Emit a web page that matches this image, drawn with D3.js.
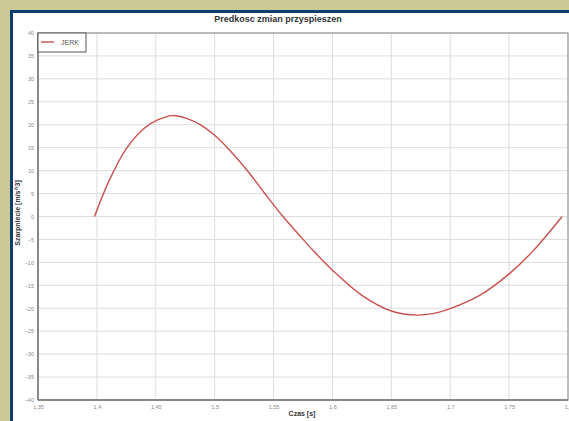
<!DOCTYPE html>
<html><head><meta charset="utf-8">
<script src="https://cdn.jsdelivr.net/npm/d3@7"></script>
<style>body{margin:0;background:#CCC997;overflow:hidden}svg{display:block}</style>
</head><body>
<script>
const title = "Predkosc zmian przyspieszen";
const xTitle = "Czas [s]";
const yTitle = "Szarpniecie [m/s^3]";
const seriesName = "JERK";
const xTicks = [1.35,1.4,1.45,1.5,1.55,1.6,1.65,1.7,1.75,1.8];
const xTickLabels = ["1,35","1,4","1,45","1,5","1,55","1,6","1,65","1,7","1,75","1,8"];
const yTicks = [40,35,30,25,20,15,10,5,0,-5,-10,-15,-20,-25,-30,-35,-40];
const time = [1.398,1.41,1.425,1.44,1.452,1.464,1.476,1.4873,1.5,1.5147,1.529,1.5432,1.558,1.572,1.5836,1.6,1.625,1.65,1.672,1.69,1.7,1.725,1.75,1.77,1.795];
const jerk = [0,7.6,14.8,19.2,21.1,22,21.4,20.1,17.7,13.9,9.6,4.8,0,-4.1,-7.4,-11.7,-17.2,-20.6,-21.5,-20.9,-20.1,-17.2,-12.5,-7.6,0];

const W=569,H=421;
const font="Arial, 'Liberation Sans', sans-serif";
const svg=d3.select("body").append("svg").attr("width",W).attr("height",H);
// frame
svg.append("rect").attr("x",10).attr("y",10).attr("width",W).attr("height",H).attr("fill","#0B3F72");
svg.append("rect").attr("x",13).attr("y",13).attr("width",W).attr("height",H).attr("fill","#fff");

const L=38,R=568,T=33,B=400;
const x=d3.scaleLinear().domain([1.35,1.8]).range([L,R]);
const y=d3.scaleLinear().domain([-40,40]).range([B,T]);

// grid
svg.append("g").selectAll("line").data(yTicks).join("line")
 .attr("x1",L).attr("x2",R).attr("y1",d=>y(d)).attr("y2",d=>y(d))
 .attr("stroke","#dcdcdc").attr("stroke-width",1);
svg.append("g").selectAll("line").data(xTicks).join("line")
 .attr("y1",T).attr("y2",B).attr("x1",d=>x(d)).attr("x2",d=>x(d))
 .attr("stroke","#dcdcdc").attr("stroke-width",1);

// axes
const labelOf=new Map(xTicks.map((v,i)=>[v,xTickLabels[i]]));
const xa=svg.append("g").attr("transform",`translate(0,${B})`)
 .call(d3.axisBottom(x).tickValues(xTicks).tickFormat(d=>labelOf.get(d)).tickSize(0).tickPadding(5));
const ya=svg.append("g").attr("transform",`translate(${L},0)`)
 .call(d3.axisLeft(y).tickValues(yTicks).tickSize(0).tickPadding(4));
[xa,ya].forEach(g=>{g.select(".domain").remove();g.selectAll("text").attr("font-family",font).attr("font-size",5.5).attr("fill","#888");});

// border
svg.append("rect").attr("x",L).attr("y",T).attr("width",R-L).attr("height",B-T).attr("fill","none").attr("stroke","#999").attr("stroke-width",1.2);
svg.append("line").attr("x1",L).attr("x2",L).attr("y1",T).attr("y2",B).attr("stroke","#777").attr("stroke-width",1.5);
svg.append("line").attr("x1",L).attr("x2",R).attr("y1",B).attr("y2",B).attr("stroke","#777").attr("stroke-width",1.5);

// curve
const line=d3.line().x((d,i)=>x(time[i])).y(d=>y(d)).curve(d3.curveCatmullRom.alpha(0.5));
svg.append("path").datum(jerk).attr("d",line).attr("fill","none").attr("stroke","#C8504E").attr("stroke-width",1.4);

// legend
svg.append("rect").attr("x",L).attr("y",T).attr("width",48).attr("height",19).attr("fill","#fff").attr("stroke","#555").attr("stroke-width",1);
svg.append("line").attr("x1",41).attr("x2",54).attr("y1",42).attr("y2",42).attr("stroke","#C8504E").attr("stroke-width",1.4);
svg.append("text").attr("x",61).attr("y",44.5).text(seriesName).attr("font-family",font).attr("font-size",7).attr("fill","#555");

// titles
svg.append("text").attr("x",278).attr("y",22).attr("text-anchor","middle").text(title)
 .attr("font-family",font).attr("font-size",9).attr("font-weight","bold").attr("fill","#333");
svg.append("text").attr("x",302).attr("y",416).attr("text-anchor","middle").text(xTitle)
 .attr("font-family",font).attr("font-size",7).attr("font-weight","bold").attr("fill","#333");
svg.append("text").attr("transform","translate(20,213) rotate(-90)").attr("text-anchor","middle").text(yTitle)
 .attr("font-family",font).attr("font-size",7).attr("font-weight","bold").attr("fill","#333");
</script>
</body></html>
